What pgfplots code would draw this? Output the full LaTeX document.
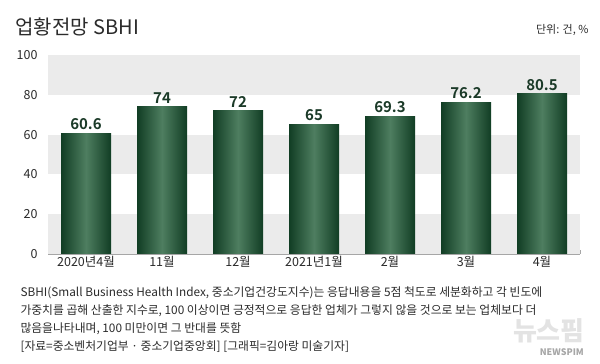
\documentclass[border=0pt]{standalone}
\usepackage{fontspec}
\setmainfont{Noto Sans CJK KR}
\newfontfamily\boldnum{Noto Sans CJK KR}[BoldFont={Noto Sans CJK KR Bold}]
\usepackage{pgfplots}
\pgfplotsset{compat=1.18}
\definecolor{barDark}{HTML}{113D24}
\definecolor{barLight}{HTML}{4E7E60}
\definecolor{band}{HTML}{EBEBEB}
\definecolor{txt}{HTML}{2B2B2B}
\definecolor{lbl}{HTML}{1B3A28}
\pgfplotsset{gbar/.style={ybar, bar width=50pt, bar shift=0pt, draw=none,
  left color=barDark, right color=barDark, middle color=barLight,
  nodes near coords, point meta=explicit symbolic,
  every node near coord/.append style={font=\boldnum\bfseries\fontsize{15}{17}\selectfont, text=lbl}}}
\begin{document}
\begin{tikzpicture}[x=1pt,y=1pt]
\useasboundingbox (0,0) rectangle (600,364);
\fill[white] (0,0) rectangle (600,364);
\node[text=gray!22, font=\bfseries\fontsize{26}{28}\selectfont, anchor=east, inner sep=0pt] at (585,33) {뉴스핌};
\begin{axis}[
  at={(48pt,110pt)}, anchor=south west,
  scale only axis, width=532pt, height=199pt,
  xmin=-0.5, xmax=6.5, ymin=0, ymax=100,
  axis x line*=bottom, axis y line=none,
  axis line style={draw=gray!70, line width=0.6pt},
  xtick={0,...,6},
  xticklabels={2020년4월,11월,12월,2021년1월,2월,3월,4월},
  major x tick style={draw=none},
  minor xtick={-0.5,0.5,...,6.5},
  minor tick length=4pt,
  minor x tick style={draw=gray!70, line width=0.6pt},
  tick align=inside,
  xticklabel style={font=\fontsize{12.5}{14}\selectfont, text=txt, yshift=1pt},
  ytick=\empty,
  clip=false,
  /pgf/number format/assume math mode=true,
]
\fill[band] (axis cs:-0.5,80) rectangle (axis cs:6.5,100);
\fill[band] (axis cs:-0.5,40) rectangle (axis cs:6.5,60);
\fill[band] (axis cs:-0.5,0) rectangle (axis cs:6.5,20);
\foreach \v in {0,20,40,60,80,100}{
  \edef\temp{\noexpand\node[anchor=east, font=\noexpand\fontsize{12.5}{14}\noexpand\selectfont, text=txt] at (axis cs:-0.5,\v) [xshift=-7pt] {\v};}
  \temp
}
\addplot[gbar] coordinates {(0,60.6)[60.6]};
\addplot[gbar] coordinates {(1,74)[74]};
\addplot[gbar] coordinates {(2,72)[72]};
\addplot[gbar] coordinates {(3,65)[65]};
\addplot[gbar] coordinates {(4,69.3)[69.3]};
\addplot[gbar] coordinates {(5,76.2)[76.2]};
\addplot[gbar] coordinates {(6,80.5)[80.5]};
\end{axis}
\node[anchor=west, font=\fontsize{20}{22}\selectfont, text=txt] at (12,337) {업황전망 SBHI};
\node[anchor=east, font=\fontsize{11}{13}\selectfont, text=txt] at (592,334) {단위: 건, \%};
\node[anchor=west, font=\fontsize{11.8}{14}\selectfont, text=txt] at (17,71) {SBHI(Small Business Health Index, 중소기업건강도지수)는 응답내용을 5점 척도로 세분화하고 각 빈도에};
\node[anchor=west, font=\fontsize{11.8}{14}\selectfont, text=txt] at (17,53) {가중치를 곱해 산출한 지수로, 100 이상이면 긍정적으로 응답한 업체가 그렇지 않을 것으로 보는 업체보다 더};
\node[anchor=west, font=\fontsize{11.8}{14}\selectfont, text=txt] at (17,35) {많음을나타내며, 100 미만이면 그 반대를 뜻함};
\node[anchor=west, font=\fontsize{11.8}{14}\selectfont, text=txt] at (17,17) {[자료=중소벤처기업부 · 중소기업중앙회] [그래픽=김아랑 미술기자]};
\node[anchor=east, font=\bfseries\fontsize{9}{11}\selectfont, text=gray!70, inner sep=0pt] at (584,12) {NEWSPIM};
\end{tikzpicture}
\end{document}
